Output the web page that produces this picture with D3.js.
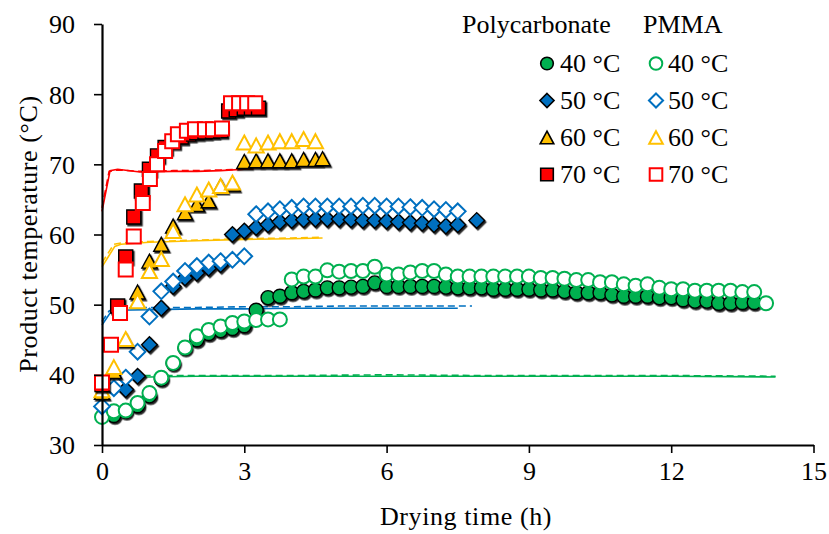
<!DOCTYPE html>
<html>
<head>
<meta charset="utf-8">
<script src="https://d3js.org/d3.v7.min.js"></script>
<style>
    body { margin: 0; background: #fff; }
    text { font-family: "Liberation Serif", "DejaVu Serif", serif; fill: #000; }
</style>
</head>
<body>
<div id="chart"></div>
<script>
    // ---- data ----
    // Polycarbonate (filled markers)
    var pc40T = [0.25,0.5,0.75,1,1.25,1.5,1.75,2,2.25,2.5,2.75,3,3.25,3.5,3.75,4,4.25,4.5,4.75,5,5.25,5.5,5.75,6,6.25,6.5,6.75,7,7.25,7.5,7.75,8,8.25,8.5,8.75,9,9.25,9.5,9.75,10,10.25,10.5,10.75,11,11.25,11.5,11.75,12,12.25,12.5,12.75,13,13.25,13.5,13.75];
    var pc40V = [34.2,34.8,35.6,37.0,39.4,41.6,43.8,45.0,45.9,46.3,46.6,47.0,49.2,51.0,51.2,51.7,51.9,52.1,52.4,52.4,52.5,52.6,53.1,52.6,52.6,52.6,52.6,52.6,52.5,52.4,52.4,52.4,52.2,52.2,52.2,52.2,52.1,52.1,51.9,51.7,51.7,51.7,51.4,51.2,51.2,51.2,51.0,51.0,50.7,50.5,50.5,50.2,50.2,50.3,50.3];
    var pc50T = [0.5,0.75,1,1.25,1.5,1.75,2,2.25,2.5,2.75,3,3.25,3.5,3.75,4,4.25,4.5,4.75,5,5.25,5.5,5.75,6,6.25,6.5,6.75,7,7.25,7.5,7.9];
    var pc50V = [37.9,39.8,44.3,49.5,52.6,53.8,54.5,55.2,55.7,60.0,60.5,61.0,61.4,61.8,62.0,62.1,62.2,62.2,62.2,62.1,62.0,62.0,61.9,61.8,61.7,61.6,61.4,61.2,61.4,62.0];
    var pc60T = [0,0.25,0.5,0.75,1,1.25,1.5,1.75,2,2.25,2.5,2.75,3,3.25,3.5,3.75,4,4.25,4.5,4.65];
    var pc60V = [37.5,40.5,45.0,51.8,56.2,58.6,61.2,63.1,64.3,64.8,66.9,67.2,70.4,70.5,70.5,70.5,70.5,70.7,70.7,70.8];
    var pc70T = [0,0.33,0.5,0.67,0.83,1,1.17,1.33,1.5,1.67,1.83,2,2.17,2.33,2.5,2.67,2.83,3,3.15,3.3];
    var pc70V = [38.6,49.8,56.8,62.5,66.2,69.3,71.2,72.4,73.2,73.9,74.3,74.5,74.6,74.7,74.8,77.6,77.8,78.0,78.0,78.0];

    // PMMA (open markers)
    var pm40T = [0,0.25,0.5,0.75,1,1.25,1.5,1.75,2,2.25,2.5,2.75,3,3.25,3.5,3.75,4,4.25,4.5,4.75,5,5.25,5.5,5.75,6,6.25,6.5,6.75,7,7.25,7.5,7.75,8,8.25,8.5,8.75,9,9.25,9.5,9.75,10,10.25,10.5,10.75,11,11.25,11.5,11.75,12,12.25,12.5,12.75,13,13.25,13.5,13.75,14];
    var pm40V = [34.0,34.8,34.9,36.0,37.4,39.6,41.7,43.9,45.5,46.4,46.9,47.4,47.6,47.8,47.9,47.9,53.6,54.0,54.0,54.9,54.7,54.8,54.8,55.4,54.3,54.3,54.6,54.8,54.8,54.3,54.0,54.0,54.0,54.0,54.0,54.0,54.0,53.8,53.8,53.7,53.5,53.5,53.2,53.2,52.9,52.7,52.9,52.4,52.2,52.2,52.0,52.0,52.0,52.0,51.8,51.8,50.2];
    var pm50T = [0,0.25,0.5,0.75,1,1.25,1.5,1.75,2,2.25,2.5,2.75,3,3.25,3.5,3.75,4,4.25,4.5,4.75,5,5.25,5.5,5.75,6,6.25,6.5,6.75,7,7.25,7.5];
    var pm50V = [35.5,38.1,39.6,43.3,48.3,51.9,53.3,54.8,55.5,56.0,56.2,56.4,56.9,62.9,63.3,63.6,63.8,64.0,64.0,64.0,64.0,64.0,64.1,64.1,64.0,64.0,63.9,63.8,63.6,63.5,63.3];
    var pm60T = [0,0.25,0.5,0.75,1,1.25,1.5,1.75,2,2.25,2.5,2.75,3,3.25,3.5,3.75,4,4.25,4.5];
    var pm60V = [37.8,41.1,45.1,50.5,54.8,56.5,60.5,64.3,65.7,66.4,66.9,67.4,73.1,72.7,73.1,73.3,73.3,73.6,73.3];
    var pm70T = [0,0.19,0.38,0.5,0.67,0.86,1.01,1.16,1.33,1.48,1.6,1.79,1.96,2.17,2.34,2.53,2.72,2.89,3.06,3.23];
    var pm70V = [38.9,44.3,48.8,55.0,59.7,64.5,67.9,70.0,71.9,73.3,74.3,74.8,75.0,75.0,75.0,75.1,78.7,78.7,78.7,78.7];

    // thin lines (solid and dashed) per drying temperature
    var g40sT = [0,0.2,0.5,1,2,4,6,8,10,12,14.2];
    var g40sV = [38.5,39.6,39.7,39.7,39.8,39.8,39.8,39.8,39.8,39.8,39.7];
    var g40dT = [0,0.2,0.5,1,2,4,6,8,10,12,14.2];
    var g40dV = [38.8,39.8,39.9,39.9,39.9,39.9,40.0,39.9,39.9,39.9,39.8];
    var b50sT = [0,0.17,0.3,1,2,3,4,5,6,7,7.5];
    var b50sV = [47.1,48.8,49.2,49.3,49.4,49.4,49.5,49.5,49.5,49.5,49.5];
    var b50dT = [0,0.15,0.3,1,2,3,4,5,6,7,7.8];
    var b50dV = [47.6,49.1,49.5,49.6,49.6,49.7,49.7,49.8,49.8,49.8,49.8];
    var y60sT = [0,0.27,0.4,1,2,3,4,4.65];
    var y60sV = [55.4,58.3,58.6,58.9,59.1,59.3,59.4,59.5];
    var y60dT = [0,0.25,0.4,1,2,3,4,4.65];
    var y60dV = [56.0,58.6,58.8,59.0,59.2,59.4,59.5,59.6];
    var r70sT = [0,0.17,0.33,0.8,1.5,2,2.5,3,3.2];
    var r70sV = [63.3,69.1,69.3,68.9,69.0,69.0,69.1,69.3,69.4];
    var r70dT = [0,0.15,0.33,0.8,1.5,2,2.5,3,3.2];
    var r70dV = [63.8,69.0,69.2,69.0,69.1,69.1,69.2,69.3,69.4];

    var xTicks = [0,3,6,9,12,15];
    var yTicks = [30,40,50,60,70,80,90];
    var legendLabels = ["40 °C","50 °C","60 °C","70 °C"];

    var green = "#00B050", blue = "#0070C0", yellow = "#FFC000", red = "#FF0000";

    var width = 829, height = 534;

    var svg = d3.select("#chart").append("svg")
        .attr("width", width)
        .attr("height", height);

    // slight shadow like the spreadsheet markers
    svg.append("defs").append("filter")
        .attr("id", "shadow")
        .attr("x", "-50%").attr("y", "-50%").attr("width", "200%").attr("height", "200%")
        .append("feDropShadow")
        .attr("dx", 1.3).attr("dy", 1.6)
        .attr("stdDeviation", 0.4)
        .attr("flood-color", "#000")
        .attr("flood-opacity", 0.85);

    var x = d3.scaleLinear().domain([0, 15]).range([102, 813.5]);
    var y = d3.scaleLinear().domain([30, 90]).range([445, 24]);

    function zip(ts, vs) {
        return ts.map(function (t, i) { return [t, vs[i]]; });
    }

    // marker shapes
    function shapePath(kind, s) {
        if (kind === "circle") return d3.symbol().type(d3.symbolCircle).size(Math.PI * s * s)();
        if (kind === "diamond") return "M0," + (-s * 1.12) + "L" + (s * 1.12) + ",0L0," + (s * 1.12) + "L" + (-s * 1.12) + ",0Z";
        if (kind === "triangle") return "M0," + (-s) + "L" + (s * 1.08) + "," + s + "L" + (-s * 1.08) + "," + s + "Z";
        return "M" + (-s) + "," + (-s) + "h" + (2 * s) + "v" + (2 * s) + "h" + (-2 * s) + "Z";
    }

    // ---- lines ----
    var line = d3.line().x(d => x(d[0])).y(d => y(d[1]));
    var lines = [
        { d: zip(g40sT, g40sV), c: green, dash: null },
        { d: zip(g40dT, g40dV), c: green, dash: "7,4" },
        { d: zip(b50sT, b50sV), c: blue, dash: null },
        { d: zip(b50dT, b50dV), c: blue, dash: "7,4" },
        { d: zip(y60sT, y60sV), c: yellow, dash: null },
        { d: zip(y60dT, y60dV), c: yellow, dash: "7,4" },
        { d: zip(r70sT, r70sV), c: red, dash: null },
        { d: zip(r70dT, r70dV), c: red, dash: "7,4" }
    ];
    svg.selectAll("path.model")
        .data(lines)
        .enter().append("path")
        .attr("class", "model")
        .attr("fill", "none")
        .attr("stroke", d => d.c)
        .attr("stroke-width", 1.6)
        .attr("stroke-dasharray", d => d.dash)
        .attr("d", d => line(d.d));

    // ---- marker series ----
    var series = [
        { d: zip(pc40T, pc40V), kind: "circle", c: green, filled: true },
        { d: zip(pm40T, pm40V), kind: "circle", c: green, filled: false },
        { d: zip(pc50T, pc50V), kind: "diamond", c: blue, filled: true },
        { d: zip(pm50T, pm50V), kind: "diamond", c: blue, filled: false },
        { d: zip(pc60T, pc60V), kind: "triangle", c: yellow, filled: true },
        { d: zip(pm60T, pm60V), kind: "triangle", c: yellow, filled: false },
        { d: zip(pc70T, pc70V), kind: "square", c: red, filled: true },
        { d: zip(pm70T, pm70V), kind: "square", c: red, filled: false }
    ];

    series.forEach(function (s) {
        svg.append("g")
            .attr("filter", s.filled ? "url(#shadow)" : null)
            .selectAll("path")
            .data(s.d)
            .enter().append("path")
            .attr("transform", d => `translate(${x(d[0])},${y(d[1])})`)
            .attr("d", shapePath(s.kind, 7))
            .attr("fill", s.filled ? s.c : "#fff")
            .attr("stroke", s.filled ? "#000" : s.c)
            .attr("stroke-width", s.filled ? 1.4 : 2);
    });

    // ---- axes ----
    var yAxis = svg.append("g")
        .attr("transform", "translate(102,0)")
        .call(d3.axisLeft(y).tickValues(yTicks).tickSize(8).tickSizeOuter(0).tickPadding(19));
    var xAxis = svg.append("g")
        .attr("transform", "translate(0,445)")
        .call(d3.axisBottom(x).tickValues(xTicks).tickSize(8).tickSizeOuter(0).tickPadding(8));

    [yAxis, xAxis].forEach(function (a) {
        a.select(".domain").attr("stroke", "#000").attr("stroke-width", 2.2);
        a.selectAll(".tick line").attr("stroke", "#000").attr("stroke-width", 1.6);
        a.selectAll("text")
            .attr("font-family", "Liberation Serif")
            .attr("font-size", 26)
            .attr("fill", "#000");
    });
    yAxis.selectAll("text").attr("dy", "0.34em");
    xAxis.selectAll("text").attr("dy", "0.72em");

    svg.append("text")
        .attr("transform", "translate(37,234) rotate(-90)")
        .attr("text-anchor", "middle")
        .attr("font-size", 26)
        .attr("letter-spacing", 0.6)
        .text("Product temperature (°C)");

    svg.append("text")
        .attr("x", 466)
        .attr("y", 525)
        .attr("text-anchor", "middle")
        .attr("font-size", 26)
        .attr("letter-spacing", 0.6)
        .text("Drying time (h)");

    // ---- legend ----
    var legend = svg.append("g");
    legend.append("text").attr("x", 462).attr("y", 33).attr("font-size", 26).text("Polycarbonate");
    legend.append("text").attr("x", 643).attr("y", 33).attr("font-size", 26).text("PMMA");

    var kinds = ["circle", "diamond", "triangle", "square"];
    var colors = [green, blue, yellow, red];
    kinds.forEach(function (k, i) {
        var cy = 63.5 + i * 37;
        legend.append("path")
            .attr("transform", `translate(547,${cy})`)
            .attr("d", shapePath(k, 6.3))
            .attr("fill", colors[i])
            .attr("stroke", "#000")
            .attr("stroke-width", 1.6);
        legend.append("text").attr("x", 560).attr("y", cy + 8.5).attr("font-size", 26).text(legendLabels[i]);
        legend.append("path")
            .attr("transform", `translate(656,${cy})`)
            .attr("d", shapePath(k, 6.3))
            .attr("fill", "#fff")
            .attr("stroke", colors[i])
            .attr("stroke-width", 2);
        legend.append("text").attr("x", 668).attr("y", cy + 8.5).attr("font-size", 26).text(legendLabels[i]);
    });
</script>
</body>
</html>
